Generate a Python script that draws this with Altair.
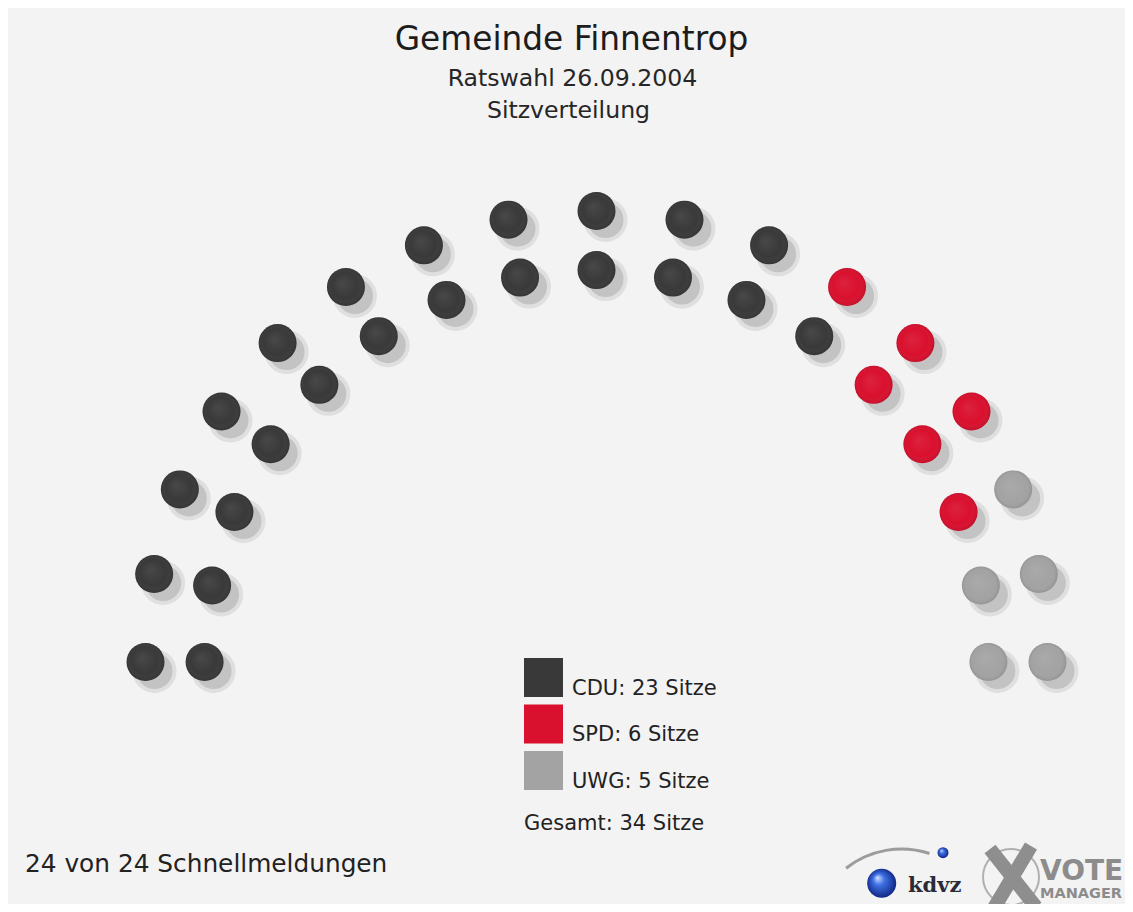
import math
import altair as alt
import pandas as pd

# ---- data ----
parties = ["CDU", "SPD", "UWG"]
seats = [23, 6, 5]
party_colors = ["#393939", "#d9102e", "#a3a3a3"]
row_seats = [17, 17]          # outer row, inner row
row_radius = [1.0, 0.869]     # relative radius of each row

title_text = "Gemeinde Finnentrop"
subtitle_lines = ["Ratswahl 26.09.2004", "Sitzverteilung"]
footer_text = "24 von 24 Schnellmeldungen"

# ---- seat layout (parliament arc) ----
slots = []
for n, rad in zip(row_seats, row_radius):
    for i in range(n):
        ang = round(math.pi * (1 - i / (n - 1)), 9)
        slots.append((ang, rad))
slots.sort(key=lambda s: (-s[0], s[1]))

labels = [f"{p}: {n} Sitze" for p, n in zip(parties, seats)]
seat_party = []
for lab, n in zip(labels, seats):
    seat_party += [lab] * n

df = pd.DataFrame({
    "x": [r * math.cos(a) for a, r in slots],
    "y": [r * math.sin(a) for a, r in slots],
    "party": seat_party,
})

FONT = "DejaVu Sans"
BG = "#f3f3f3"
W, H = 1117, 896

xs = alt.Scale(domain=[-1.30488, 1.17184], zero=False, nice=False)
ys = alt.Scale(domain=[1.45011 - H / 451.0, 1.45011], zero=False, nice=False)

base = alt.Chart(df).encode(
    x=alt.X("x:Q", scale=xs, axis=None),
    y=alt.Y("y:Q", scale=ys, axis=None),
)

shadow_halo = base.mark_circle(size=44 * 44, color="#d9d9d9", opacity=0.8, xOffset=9, yOffset=9)
shadow_core = base.mark_circle(size=36 * 36, color="#c3c3c3", opacity=1, xOffset=9, yOffset=9)

seat_layer = base.mark_circle(size=38 * 38, opacity=1).encode(
    color=alt.Color(
        "party:N",
        scale=alt.Scale(domain=labels, range=party_colors),
        legend=alt.Legend(
            orient="none", legendX=516, legendY=650, padding=0,
            symbolType="square", symbolSize=39 * 39, symbolStrokeWidth=0, symbolOpacity=1,
            labelFont=FONT, labelFontSize=21, labelColor="#222222", labelOffset=9,
            labelBaseline="top", labelLimit=0, rowPadding=5.5,
            title=f"Gesamt: {sum(seats)} Sitze", titleOrient="bottom", titleAnchor="start",
            titleFont=FONT, titleFontSize=21, titleFontWeight="normal", titleColor="#222222",
            titlePadding=21, titleLimit=0,
        ),
    )
)

gloss = base.mark_circle(
    size=38 * 38, opacity=1,
    fill={"gradient": "radial", "x1": 0.4, "y1": 0.38, "r1": 0, "x2": 0.5, "y2": 0.5, "r2": 0.5,
          "stops": [{"offset": 0, "color": "rgba(255,255,255,0.08)"},
                    {"offset": 0.7, "color": "rgba(255,255,255,0.0)"},
                    {"offset": 1, "color": "rgba(0,0,0,0.10)"}]},
)

def txt(text, x, y, size, align="center", color="#1c1c1c", weight="normal", font=FONT):
    return alt.Chart(pd.DataFrame({"t": [text]})).mark_text(
        font=font, fontSize=size, fontWeight=weight, color=color, align=align, baseline="alphabetic"
    ).encode(text="t:N", x=alt.value(x), y=alt.value(y))

t_title = txt(title_text, 563.5, 42, 32.8)
t_sub1 = txt(subtitle_lines[0], 564.5, 77.7, 23.6, color="#262626")
t_sub2 = txt(subtitle_lines[1], 560.5, 110, 23.6, color="#262626")
t_foot = txt(footer_text, 17, 864, 24.8, align="left", color="#222222")

# ---- logos (decoration) ----
deco = alt.Chart(pd.DataFrame({"d": [0]}))
swoosh = deco.mark_arc(radius=91, radius2=88, theta=5.615, theta2=6.601, color="#9c9c9c").encode(
    x=alt.value(893.5), y=alt.value(930.5))
blue_grad = {"gradient": "radial", "x1": 0.35, "y1": 0.3, "r1": 0, "x2": 0.5, "y2": 0.5, "r2": 0.55,
             "stops": [{"offset": 0, "color": "#d6e4ff"}, {"offset": 0.35, "color": "#3f72e6"},
                       {"offset": 1, "color": "#0b1f7a"}]}
ball_big = deco.mark_circle(size=29 * 29, opacity=1, fill=blue_grad).encode(
    x=alt.value(873.7), y=alt.value(875.3))
ball_small = deco.mark_circle(size=11 * 11, opacity=1, fill=blue_grad).encode(
    x=alt.value(935), y=alt.value(844.7))
t_kdvz = txt("kdvz", 900, 884, 21, align="left", color="#2b2b38", weight="bold", font="DejaVu Serif")
ring = deco.mark_circle(size=56 * 56, filled=False, stroke="#b0b0b0", strokeWidth=2, opacity=1).encode(
    x=alt.value(1003), y=alt.value(869))
x_arm1 = deco.mark_rule(color="#8e8e8e", strokeWidth=14).encode(
    x=alt.value(982), y=alt.value(841), x2=alt.value(1028), y2=alt.value(899))
x_arm2 = deco.mark_rule(color="#8e8e8e", strokeWidth=14).encode(
    x=alt.value(1023), y=alt.value(838), x2=alt.value(986), y2=alt.value(900))
t_vote = txt("VOTE", 1032, 872, 28, align="left", color="#8c8c8c", weight="bold")
t_mgr = txt("MANAGER", 1032, 890, 14.5, align="left", color="#8c8c8c", weight="bold")

chart = alt.layer(
    shadow_halo, shadow_core, seat_layer, gloss,
    t_title, t_sub1, t_sub2, t_foot,
    swoosh, ball_big, ball_small, t_kdvz, ring, x_arm1, x_arm2, t_vote, t_mgr,
).properties(
    width=W, height=H, padding=0, autosize="none", background=BG,
).configure_view(fill=BG, stroke=None)

chart.save("out.html", embed_options={"renderer": "svg", "actions": False})
